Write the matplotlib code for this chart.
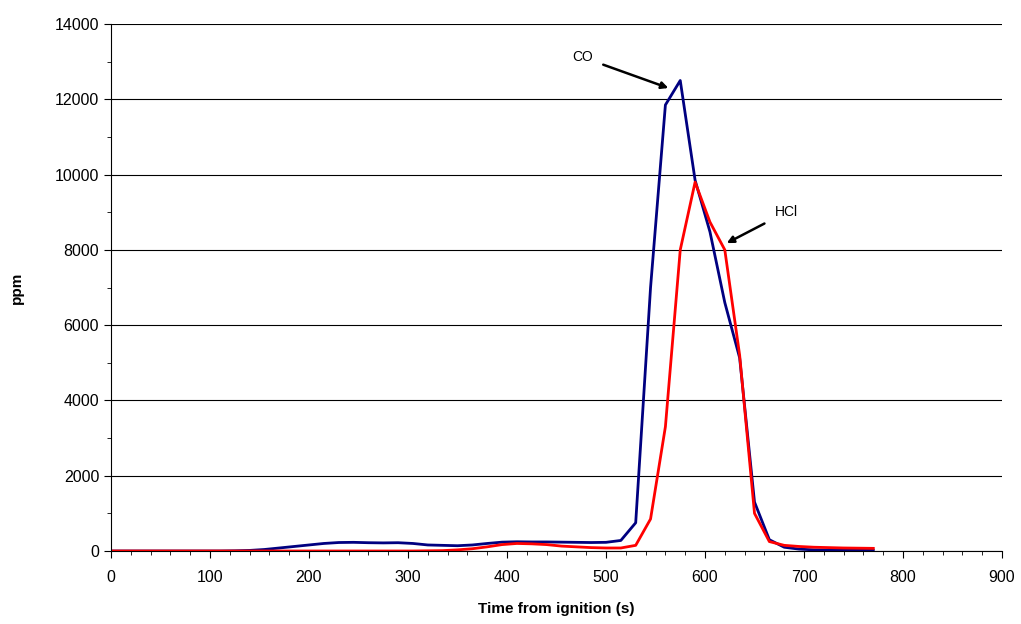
import matplotlib
matplotlib.use("Agg")
import matplotlib.pyplot as plt
import numpy as np
from matplotlib.ticker import MultipleLocator

plt.rcParams['font.family'] = ['Liberation Sans', 'DejaVu Sans']

time_s = np.concatenate([[0], np.arange(5, 771, 15)])
co_ppm = [0, 0, 0, 0, 0, 0, 0, 0, 0, 5, 15, 40, 80, 120, 160, 200, 225,
          230, 220, 215, 220, 200, 160, 150, 140, 160, 200, 235, 245, 240, 240,
          235, 230, 225, 230, 280, 750, 7000, 11850, 12500, 9850, 8480, 6600,
          5130, 1300, 300, 100, 50, 30, 25, 20, 20, 20]
hcl_ppm = [0, 0, 0, 0, 0, 0, 0, 0, 0, 0, 0, 0, 0, 0, 0, 0, 0,
           0, 0, 0, 0, 0, 5, 10, 30, 60, 110, 170, 200, 190, 170,
           130, 110, 90, 80, 80, 150, 850, 3300, 8000, 9800, 8740, 8000,
           5200, 1000, 250, 150, 120, 100, 90, 80, 75, 70]

fig = plt.figure(figsize=(10.21, 6.24), dpi=100)
ax = fig.add_axes([0.1087, 0.117, 0.8727, 0.8445])

ax.plot(time_s, co_ppm, color='#000080', lw=2)
ax.plot(time_s, hcl_ppm, color='#ff0000', lw=2)

ax.set_xlim(0, 900)
ax.set_ylim(0, 14000)
ax.xaxis.set_major_locator(MultipleLocator(100))
ax.xaxis.set_minor_locator(MultipleLocator(20))
ax.yaxis.set_major_locator(MultipleLocator(2000))
ax.yaxis.set_minor_locator(MultipleLocator(1000))
ax.grid(axis='y', which='major', color='black', lw=0.8)
ax.set_axisbelow(True)
for s in ['top', 'right']:
    ax.spines[s].set_visible(False)
ax.tick_params(which='major', direction='out', length=5, labelsize=11.5)
ax.tick_params(axis='x', which='major', pad=9)
ax.tick_params(which='minor', direction='out', length=3)

ax.set_xlabel('Time from ignition (s)', fontsize=11, fontweight='bold', labelpad=12)
ax.set_ylabel('ppm', fontsize=11, fontweight='bold', labelpad=22)

ax.annotate('CO', xy=(563, 12300), xytext=(476, 13120), fontsize=10,
            ha='center', va='center',
            arrowprops=dict(arrowstyle='-|>', color='black', lw=1.8, shrinkA=6, shrinkB=0))
ax.annotate('HCl', xy=(622, 8180), xytext=(682, 9000), fontsize=10,
            ha='center', va='center',
            arrowprops=dict(arrowstyle='-|>', color='black', lw=1.8, shrinkA=6, shrinkB=0))

fig.savefig('out.png', dpi=100)
